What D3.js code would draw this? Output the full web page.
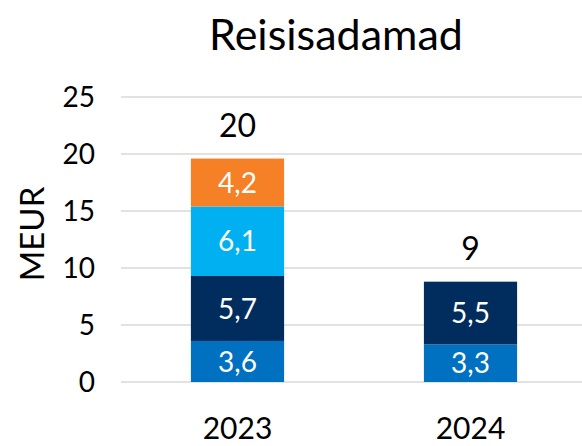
<html>
<head>
    <meta charset="utf-8">
    <title>Reisisadamad</title>
    <style>
        body { margin: 0; background: #fff; }
        text { font-family: Lato, "Liberation Sans", sans-serif; }
    </style>
</head>
<body>
    <script src="https://cdn.jsdelivr.net/npm/d3@7/dist/d3.min.js"></script>
    <script>
        // data
        var years = ["2023", "2024"];
        var seriesNames = ["s1", "s2", "s3", "s4"];
        var seriesColors = ["#0070c0", "#002d5e", "#00b0f0", "#f58025"];
        var seriesValues = [
            [3.6, 3.3],   // s1
            [5.7, 5.5],   // s2
            [6.1, 0],     // s3
            [4.2, 0]      // s4
        ];
        var totals = [20, 9];
        var yTicks = [0, 5, 10, 15, 20, 25];

        var width = 582, height = 446;
        var svg = d3.select("body").append("svg")
            .attr("width", width)
            .attr("height", height);

        var x = d3.scaleBand().domain(years).range([121, 587])
            .paddingInner(0.6).paddingOuter(0.3);
        var y = d3.scaleLinear().domain([0, 25]).range([382, 97]);

        // title
        svg.append("text")
            .attr("x", 336).attr("y", 50)
            .attr("text-anchor", "middle")
            .attr("font-size", 43)
            .text("Reisisadamad");

        // gridlines
        svg.selectAll("line.grid")
            .data(yTicks)
            .enter().append("line")
            .attr("class", "grid")
            .attr("x1", 121).attr("x2", width)
            .attr("y1", d => y(d)).attr("y2", d => y(d))
            .attr("stroke", "#d9d9d9")
            .attr("stroke-width", 1.5);

        // y tick labels
        svg.selectAll("text.ytick")
            .data(yTicks)
            .enter().append("text")
            .attr("class", "ytick")
            .attr("x", 95).attr("y", d => y(d))
            .attr("dy", "0.36em")
            .attr("text-anchor", "end")
            .attr("font-size", 28)
            .text(d => d);

        // axis title
        svg.append("text")
            .attr("transform", "translate(44,234) rotate(-90)")
            .attr("text-anchor", "middle")
            .attr("font-size", 33)
            .text("MEUR");

        // stacked bars
        var rows = years.map(function (yr, i) {
            var r = { year: yr };
            seriesNames.forEach(function (s, j) { r[s] = seriesValues[j][i]; });
            return r;
        });
        var stack = d3.stack().keys(seriesNames)(rows);

        var groups = svg.selectAll("g.layer")
            .data(stack)
            .enter().append("g")
            .attr("class", "layer")
            .attr("fill", (d, i) => seriesColors[i]);

        groups.selectAll("rect")
            .data(d => d.filter(p => p[1] - p[0] > 0))
            .enter().append("rect")
            .attr("x", d => x(d.data.year))
            .attr("y", d => y(d[1]))
            .attr("width", x.bandwidth())
            .attr("height", d => y(d[0]) - y(d[1]));

        groups.selectAll("text")
            .data(d => d.filter(p => p[1] - p[0] > 0))
            .enter().append("text")
            .attr("x", d => x(d.data.year) + x.bandwidth() / 2)
            .attr("y", d => y((d[0] + d[1]) / 2))
            .attr("dy", "0.36em")
            .attr("text-anchor", "middle")
            .attr("fill", "#fff")
            .attr("font-size", 28)
            .text(d => String(+(d[1] - d[0]).toFixed(1)).replace(".", ","));

        // totals
        svg.selectAll("text.total")
            .data(years)
            .enter().append("text")
            .attr("class", "total")
            .attr("x", d => x(d) + x.bandwidth() / 2)
            .attr("y", (d, i) => y(d3.sum(seriesValues, s => s[i])) - 33)
            .attr("dy", "0.36em")
            .attr("text-anchor", "middle")
            .attr("font-size", 32)
            .text((d, i) => totals[i]);

        // category labels
        svg.selectAll("text.cat")
            .data(years)
            .enter().append("text")
            .attr("class", "cat")
            .attr("x", d => x(d) + x.bandwidth() / 2)
            .attr("y", 439)
            .attr("text-anchor", "middle")
            .attr("font-size", 30)
            .text(d => d);
    </script>
</body>
</html>
